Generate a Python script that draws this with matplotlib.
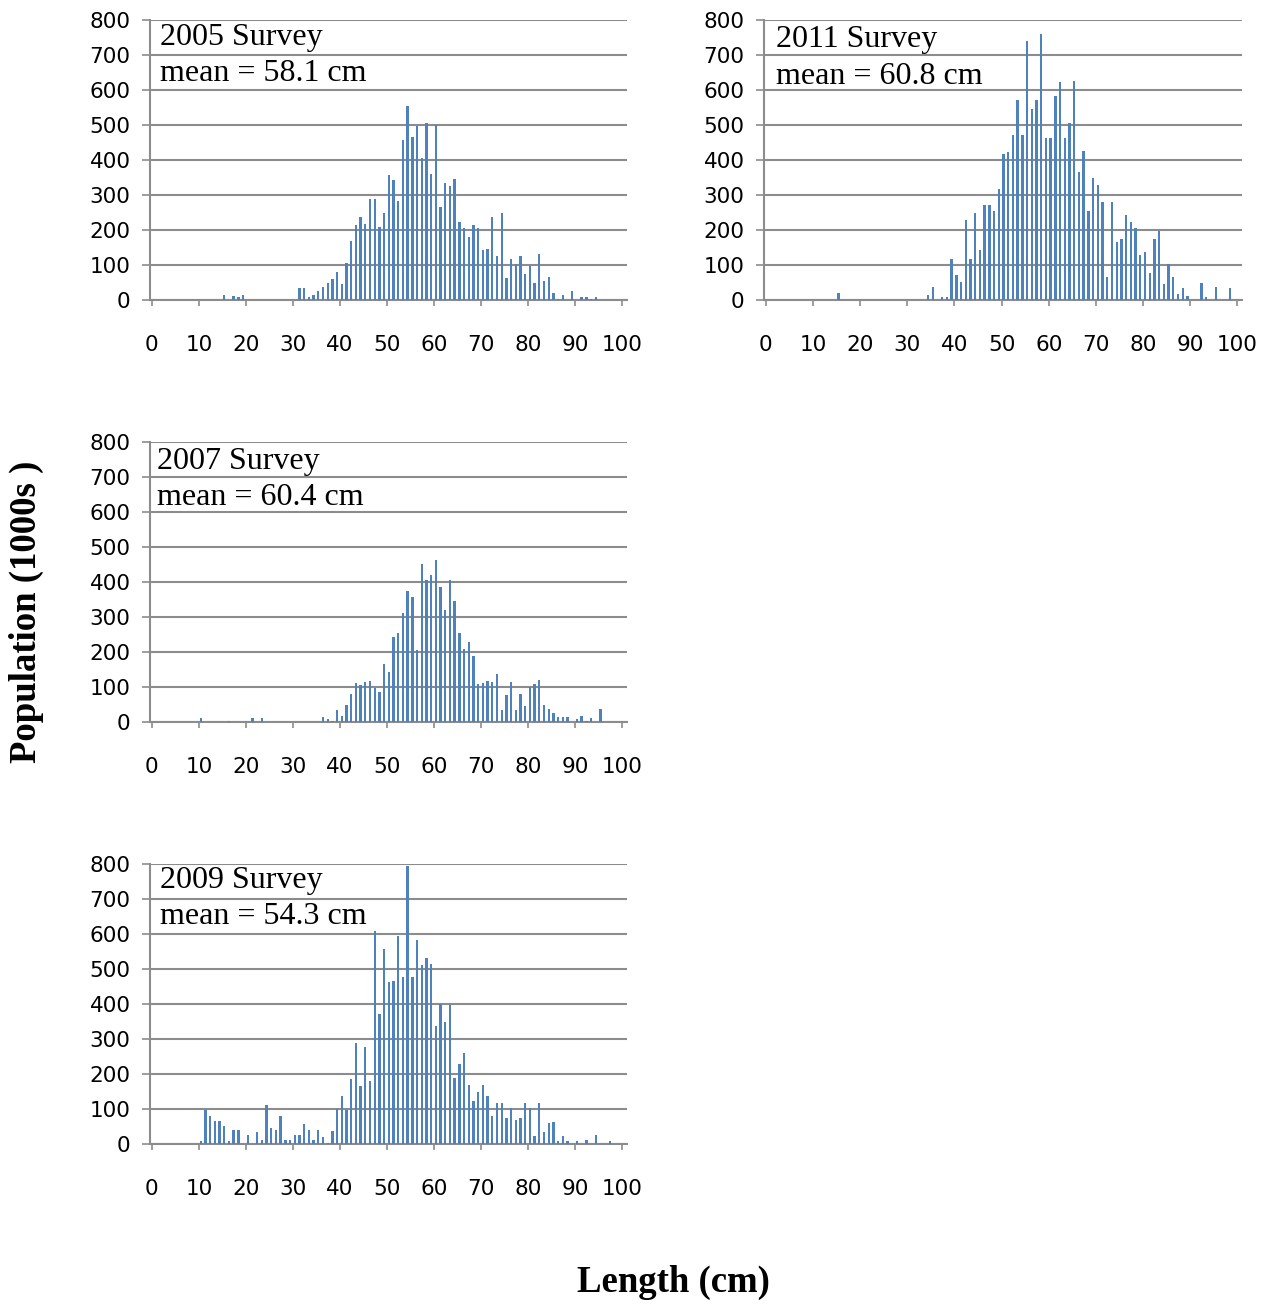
"""
plot.py
------------------
Length-frequency histograms for four surveys, laid out as in the report figure.
"""
import matplotlib
matplotlib.use("Agg")
import matplotlib.pyplot as plt

len_2005 = [15, 17, 18, 19, 31, 32, 33, 34, 35, 36, 37, 38, 39, 40, 41, 42, 43, 44, 45, 46, 47, 48, 49,
            50, 51, 52, 53, 54, 55, 56, 57, 58, 59, 60, 61, 62, 63, 64, 65, 66, 67, 68, 69, 70, 71, 72,
            73, 74, 75, 76, 77, 78, 79, 80, 81, 82, 83, 84, 85, 86, 87, 89, 91, 92, 93, 94]
pop_2005 = [15, 11, 8, 15, 33, 33, 8, 15, 26, 37, 48, 59, 81, 45, 107, 170, 213, 236, 217, 290, 288, 210, 248,
            356, 343, 284, 457, 554, 466, 497, 405, 505, 360, 500, 265, 335, 327, 346, 224, 207, 181, 213, 207,
            143, 147, 238, 126, 249, 62, 117, 103, 126, 74, 97, 48, 130, 55, 66, 19, 4, 14, 26, 8, 8, 4, 8]

len_2011 = [15, 34, 35, 37, 38, 39, 40, 41, 42, 43, 44, 45, 46, 47, 48, 49, 50, 51, 52, 53, 54, 55, 56,
            57, 58, 59, 60, 61, 62, 63, 64, 65, 66, 67, 68, 69, 70, 71, 72, 73, 74, 75, 76, 77, 78, 79,
            80, 81, 82, 83, 84, 85, 86, 87, 88, 89, 92, 93, 95, 98]
pop_2011 = [19, 14, 36, 8, 8, 118, 70, 50, 228, 117, 248, 143, 271, 271, 254, 316, 416, 424, 471, 571, 471,
            741, 545, 571, 759, 464, 464, 582, 623, 464, 507, 626, 367, 427, 254, 350, 328, 279, 67, 279,
            167, 173, 243, 222, 207, 129, 136, 76, 173, 197, 45, 102, 67, 18, 33, 11, 48, 8, 36, 33]

len_2007 = [10, 16, 21, 23, 36, 37, 38, 39, 40, 41, 42, 43, 44, 45, 46, 47, 48, 49, 50, 51, 52, 53, 54,
            55, 56, 57, 58, 59, 60, 61, 62, 63, 64, 65, 66, 67, 68, 69, 70, 71, 72, 73, 74, 75, 76, 77,
            78, 79, 80, 81, 82, 83, 84, 85, 86, 87, 88, 90, 91, 92, 93, 95]
pop_2007 = [11, 4, 11, 11, 14, 7, 4, 33, 18, 49, 81, 110, 106, 113, 117, 96, 85, 166, 143, 242, 253, 312,
            374, 357, 206, 451, 407, 419, 463, 386, 320, 407, 346, 253, 209, 228, 188, 107, 110, 117, 113,
            136, 33, 77, 113, 33, 81, 45, 99, 107, 121, 49, 37, 26, 14, 14, 14, 7, 18, 4, 10, 37]

len_2009 = [10, 11, 12, 13, 14, 15, 16, 17, 18, 20, 22, 23, 24, 25, 26, 27, 28, 29, 30, 31, 32, 33, 34,
            35, 36, 37, 38, 39, 40, 41, 42, 43, 44, 45, 46, 47, 48, 49, 50, 51, 52, 53, 54, 55, 56, 57,
            58, 59, 60, 61, 62, 63, 64, 65, 66, 67, 68, 69, 70, 71, 72, 73, 74, 75, 76, 77, 78, 79, 80,
            81, 82, 83, 84, 85, 86, 87, 88, 90, 92, 94, 97]
pop_2009 = [10, 97, 81, 67, 67, 52, 10, 41, 41, 26, 34, 11, 111, 45, 41, 81, 11, 11, 26, 26, 56, 41, 11,
            41, 19, 4, 37, 100, 137, 97, 185, 288, 167, 278, 179, 609, 371, 558, 463, 466, 595, 477, 795,
            477, 584, 511, 533, 514, 337, 400, 348, 396, 189, 229, 259, 170, 123, 148, 170, 137, 81, 118,
            118, 75, 103, 70, 75, 118, 103, 22, 118, 34, 59, 62, 8, 22, 8, 8, 11, 26, 8]

surveys = ["2005 Survey", "2011 Survey", "2007 Survey", "2009 Survey"]
means = ["mean = 58.1 cm", "mean = 60.8 cm", "mean = 60.4 cm", "mean = 54.3 cm"]

BAR_COLOR = "#4F81BD"
GRID_COLOR = "#8c8c8c"

fig = plt.figure(figsize=(12.75, 13.1), dpi=100)

# axes rectangles in figure fractions
boxes = [
    [0.1176, 0.771, 0.374, 0.2137],
    [0.5992, 0.771, 0.375, 0.2137],
    [0.1176, 0.4489, 0.374, 0.2137],
    [0.1176, 0.1267, 0.374, 0.2137],
]
text_pos = [(0.021, 0.938, 0.808), (0.025, 0.929, 0.797), (0.015, 0.929, 0.800), (0.021, 0.940, 0.811)]
data = [(len_2005, pop_2005), (len_2011, pop_2011), (len_2007, pop_2007), (len_2009, pop_2009)]


def draw_panel(ax, lengths, pops, survey, mean, tpos):
    """
    One length-frequency histogram in the Excel look
    """
    ax.bar([l + 0.4 for l in lengths], pops, width=0.5, color=BAR_COLOR, zorder=3)
    ax.set_xlim(-0.4, 101)
    ax.set_ylim(0, 800)
    ax.set_xticks(range(0, 101, 10))
    ax.set_yticks(range(0, 801, 100))
    ax.yaxis.grid(True, color=GRID_COLOR, linewidth=1.5, zorder=0)
    for s in ["top", "right"]:
        ax.spines[s].set_visible(False)
    for s in ["left", "bottom"]:
        ax.spines[s].set_color(GRID_COLOR)
        ax.spines[s].set_linewidth(1.5)
    ax.tick_params(axis="x", length=4, width=1.2, color=GRID_COLOR, pad=21, labelsize=15.5)
    ax.tick_params(axis="y", length=6, width=1.2, color=GRID_COLOR, pad=8, labelsize=15.5)
    x, y1, y2 = tpos
    ax.text(x, y1, survey, transform=ax.transAxes, family="Liberation Serif",
            fontsize=23, va="center", ha="left", zorder=5)
    ax.text(x, y2, mean, transform=ax.transAxes, family="Liberation Serif",
            fontsize=23, va="center", ha="left", zorder=5)


for box, (lengths, pops), survey, mean, tpos in zip(boxes, data, surveys, means, text_pos):
    ax = fig.add_axes(box)
    draw_panel(ax, lengths, pops, survey, mean, tpos)

fig.text(0.021, 0.533, "Population (1000s )", rotation=90, family="Liberation Serif",
         fontweight="bold", fontsize=26.5, ha="center", va="center")
fig.text(0.528, 0.021, "Length (cm)", family="Liberation Serif",
         fontweight="bold", fontsize=26.5, ha="center", va="center")

fig.savefig("out.png", dpi=100)
